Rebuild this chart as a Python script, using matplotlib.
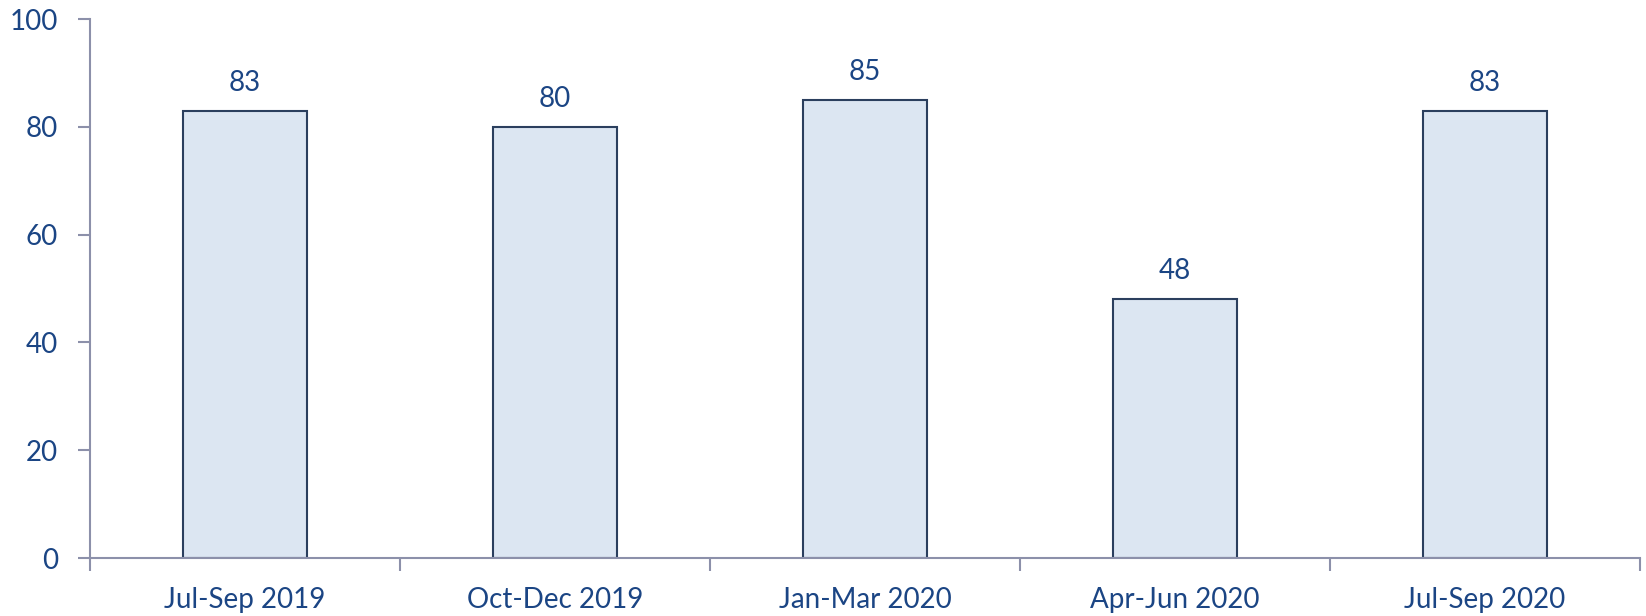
"""Quarterly bar chart recreation."""
import matplotlib
matplotlib.use("Agg")
import matplotlib.pyplot as plt  # noqa: E402
import numpy as np  # noqa: E402

quarters = ["Jul-Sep 2019", "Oct-Dec 2019", "Jan-Mar 2020", "Apr-Jun 2020", "Jul-Sep 2020"]
values = [83, 80, 85, 48, 83]
yticks = [0, 20, 40, 60, 80, 100]

TEXT = "#1b4584"
SPINE = "#8c90aa"
FS = 20
plt.rcParams["font.family"] = ["Lato", "DejaVu Sans"]

fig = plt.figure(figsize=(16.46, 6.16), dpi=100)
ax = fig.add_axes([0.0547, 0.094, 0.9417, 0.875])

x = np.arange(len(quarters))
bars = ax.bar(x, values, width=0.40, color="#dce6f2", edgecolor="#2b3f5e", linewidth=1.5, zorder=2)
for b, v in zip(bars, values):
    ax.text(b.get_x() + b.get_width() / 2, v + 2.8, str(v), ha="center", va="bottom",
            fontsize=FS, color=TEXT)

ax.set_xlim(-0.5, len(quarters) - 0.5)
ax.set_ylim(0, 100)
ax.set_yticks(yticks)
ax.set_xticks(x)
ax.set_xticklabels(quarters)
ax.set_xticks(np.arange(-0.5, len(quarters)), minor=True)
ax.tick_params(axis="x", which="major", length=0, pad=21, labelsize=FS, labelcolor=TEXT)
ax.tick_params(axis="x", which="minor", length=9, width=1.5, color=SPINE, direction="out")
ax.tick_params(axis="y", length=9, width=1.5, color=SPINE, labelsize=FS, labelcolor=TEXT, pad=14)

for s in ["top", "right"]:
    ax.spines[s].set_visible(False)
for s in ["left", "bottom"]:
    ax.spines[s].set_color(SPINE)
    ax.spines[s].set_linewidth(1.5)

fig.savefig("out.png", dpi=100)
